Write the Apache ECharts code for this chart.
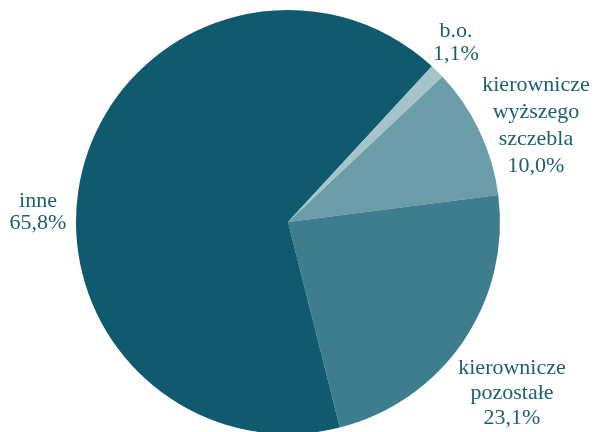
<!DOCTYPE html>
<html>
<head>
<meta charset="utf-8">
<script src="https://cdn.jsdelivr.net/npm/echarts@6/dist/echarts.min.js"></script>
<style>
  html, body { margin: 0; padding: 0; background: #ffffff; }
  #chart { width: 595px; height: 432px; }
</style>
</head>
<body>
<div id="chart"></div>
<script>
// Struktura według stanowisk
const categories = ['kierownicze\nwyższego\nszczebla', 'kierownicze\npozostałe', 'inne', 'b.o.'];
const values = [10.0, 23.1, 65.8, 1.1];
const colors = ['#6b9da8', '#3e7d8e', '#0f5a6e', '#a5c4ca'];

// label placement (block centres) and line spacing per slice
const labelPos = [[536, 126], [512, 393], [38, 212], [456, 43]];
const labelLineHeight = [27, 25, 22, 23];

const fmt = v => v.toFixed(1).replace('.', ',') + '%';

const chart = echarts.init(document.getElementById('chart'), null, { renderer: 'canvas' });
chart.setOption({
  animation: false,
  backgroundColor: '#ffffff',
  series: [{
    type: 'pie',
    center: [288, 222],
    radius: [0, 212],
    startAngle: 43.3,
    clockwise: true,
    avoidLabelOverlap: false,
    itemStyle: { borderWidth: 0 },
    label: {
      show: true,
      position: 'outside',
      fontFamily: 'Liberation Serif',
      fontSize: 22,
      color: '#1d6070',
      align: 'center',
      verticalAlign: 'middle'
    },
    labelLine: { show: false },
    labelLayout: p => ({
      x: labelPos[p.dataIndex][0],
      y: labelPos[p.dataIndex][1],
      align: 'center',
      verticalAlign: 'middle'
    }),
    data: categories.map((c, i) => ({
      name: c,
      value: values[i],
      itemStyle: { color: colors[i] },
      label: {
        formatter: c + '\n' + fmt(values[i]),
        lineHeight: labelLineHeight[i]
      }
    }))
  }]
});
</script>
</body>
</html>
